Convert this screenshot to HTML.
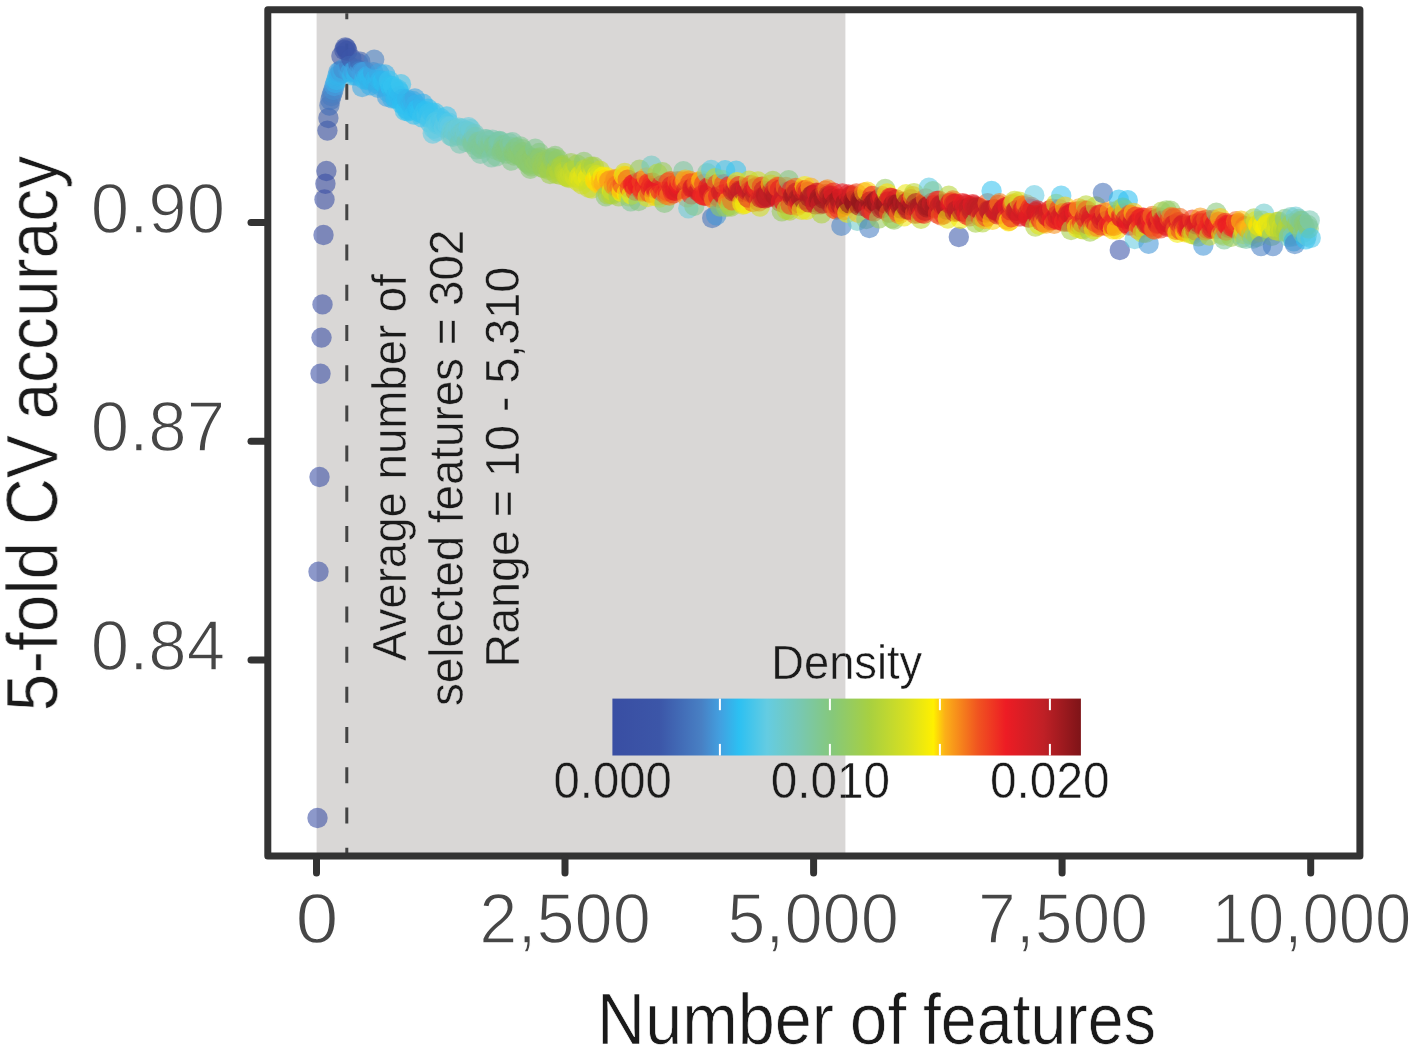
<!DOCTYPE html>
<html><head><meta charset="utf-8"><title>5-fold CV accuracy vs number of features</title>
<style>html,body{margin:0;padding:0;background:#fff;}body{width:1417px;height:1052px;overflow:hidden;font-family:"Liberation Sans",sans-serif;}</style>
</head><body>
<svg width="1417" height="1052" viewBox="0 0 1417 1052" style="display:block;font-family:'Liberation Sans',sans-serif">
<defs><linearGradient id="jet" x1="0" x2="1" y1="0" y2="0"><stop offset="0.0%" stop-color="rgb(57, 78, 163)"/><stop offset="10.0%" stop-color="rgb(60, 86, 168)"/><stop offset="19.0%" stop-color="rgb(72, 128, 196)"/><stop offset="23.0%" stop-color="rgb(66, 160, 224)"/><stop offset="27.0%" stop-color="rgb(44, 192, 242)"/><stop offset="33.0%" stop-color="rgb(100, 204, 226)"/><stop offset="40.0%" stop-color="rgb(120, 200, 178)"/><stop offset="47.0%" stop-color="rgb(134, 200, 122)"/><stop offset="55.0%" stop-color="rgb(168, 208, 64)"/><stop offset="63.0%" stop-color="rgb(216, 224, 32)"/><stop offset="68.5%" stop-color="rgb(255, 240, 0)"/><stop offset="71.0%" stop-color="rgb(251, 176, 24)"/><stop offset="78.0%" stop-color="rgb(240, 84, 32)"/><stop offset="84.0%" stop-color="rgb(237, 28, 36)"/><stop offset="92.0%" stop-color="rgb(192, 32, 38)"/><stop offset="100.0%" stop-color="rgb(126, 20, 24)"/></linearGradient>
<clipPath id="cl"><rect x="0" y="0" width="845.4" height="1052"/></clipPath>
<clipPath id="cr"><rect x="845.4" y="0" width="600" height="1052"/></clipPath></defs>
<rect width="1417" height="1052" fill="#ffffff"/>
<rect x="316.6" y="9.7" width="528.8" height="846.3" fill="#d9d7d6"/>
<line x1="346.8" y1="13.2" x2="346.8" y2="853" stroke="#444444" stroke-width="3" stroke-dasharray="16 24.21" stroke-dashoffset="9.9"/>
<g fill-opacity="0.58">
<circle cx="317.5" cy="818.0" r="10.2" fill="#394ea3"/>
<circle cx="318.5" cy="571.7" r="10.2" fill="#394ea3"/>
<circle cx="319.5" cy="477.0" r="10.2" fill="#394ea3"/>
<circle cx="320.5" cy="373.7" r="10.2" fill="#394ea3"/>
<circle cx="321.5" cy="337.6" r="10.2" fill="#394ea3"/>
<circle cx="322.5" cy="304.4" r="10.2" fill="#394ea3"/>
<circle cx="323.5" cy="235.0" r="10.2" fill="#394ea3"/>
<circle cx="324.5" cy="199.5" r="10.2" fill="#394ea3"/>
<circle cx="325.4" cy="183.8" r="10.2" fill="#394ea3"/>
<circle cx="326.4" cy="171.0" r="10.2" fill="#394fa3"/>
<circle cx="327.4" cy="130.6" r="10.2" fill="#3b54a7"/>
<circle cx="328.4" cy="118.0" r="10.2" fill="#3d5bab"/>
<circle cx="329.4" cy="105.6" r="10.2" fill="#426cb6"/>
<circle cx="330.4" cy="100.0" r="10.2" fill="#4473bb"/>
<circle cx="331.4" cy="96.0" r="10.2" fill="#467ac0"/>
<circle cx="332.4" cy="93.0" r="10.2" fill="#4881c5"/>
<circle cx="333.4" cy="90.0" r="10.2" fill="#458ed1"/>
<circle cx="334.4" cy="86.0" r="10.2" fill="#41a2e1"/>
<circle cx="335.4" cy="83.0" r="10.2" fill="#38aee8"/>
<circle cx="336.4" cy="80.0" r="10.2" fill="#33b6ec"/>
<circle cx="337.4" cy="76.0" r="10.2" fill="#34b4eb"/>
<circle cx="338.4" cy="72.0" r="10.2" fill="#41a2e1"/>
<circle cx="339.4" cy="75.0" r="10.2" fill="#35b2ea"/>
<circle cx="340.4" cy="71.0" r="10.2" fill="#439cdd"/>
<circle cx="341.4" cy="56.0" r="10.2" fill="#3c55a7"/>
<circle cx="342.3" cy="73.0" r="10.2" fill="#3aabe6"/>
<circle cx="343.3" cy="69.0" r="10.2" fill="#458ed0"/>
<circle cx="344.3" cy="50.0" r="10.2" fill="#3b53a6"/>
<circle cx="345.3" cy="47.5" r="10.2" fill="#3a52a5"/>
<circle cx="346.3" cy="48.5" r="10.2" fill="#3b52a6"/>
<circle cx="347.3" cy="51.0" r="10.2" fill="#3b53a6"/>
<circle cx="348.3" cy="71.0" r="10.2" fill="#42a0e0"/>
<circle cx="349.3" cy="65.9" r="10.2" fill="#4679bf"/>
<circle cx="350.3" cy="72.5" r="10.2" fill="#3babe6"/>
<circle cx="351.3" cy="58.5" r="10.2" fill="#3c57a9"/>
<circle cx="352.3" cy="75.4" r="10.2" fill="#30baee"/>
<circle cx="353.3" cy="71.2" r="10.2" fill="#42a0e0"/>
<circle cx="354.3" cy="71.4" r="10.2" fill="#41a2e1"/>
<circle cx="355.3" cy="73.1" r="10.2" fill="#39ade7"/>
<circle cx="356.3" cy="75.9" r="10.2" fill="#30baef"/>
<circle cx="357.3" cy="69.3" r="10.2" fill="#458ed1"/>
<circle cx="358.3" cy="63.3" r="10.2" fill="#4269b5"/>
<circle cx="359.3" cy="71.2" r="10.2" fill="#439ddd"/>
<circle cx="360.2" cy="61.8" r="10.2" fill="#3f62b0"/>
<circle cx="361.2" cy="72.1" r="10.2" fill="#41a2e1"/>
<circle cx="362.2" cy="87.1" r="10.2" fill="#3ca9e5"/>
<circle cx="363.2" cy="72.2" r="10.2" fill="#41a1e1"/>
<circle cx="364.2" cy="79.3" r="10.2" fill="#30bbef"/>
<circle cx="365.2" cy="71.4" r="10.2" fill="#439adb"/>
<circle cx="366.2" cy="79.2" r="10.2" fill="#30baee"/>
<circle cx="367.2" cy="76.1" r="10.2" fill="#35b3eb"/>
<circle cx="368.2" cy="77.4" r="10.2" fill="#32b7ed"/>
<circle cx="369.2" cy="80.2" r="10.2" fill="#31b9ee"/>
<circle cx="370.2" cy="85.2" r="10.2" fill="#38afe8"/>
<circle cx="371.2" cy="79.2" r="10.2" fill="#31b8ee"/>
<circle cx="372.2" cy="79.2" r="10.2" fill="#31b8ee"/>
<circle cx="373.2" cy="72.3" r="10.2" fill="#429dde"/>
<circle cx="374.2" cy="59.6" r="10.2" fill="#4881c5"/>
<circle cx="375.2" cy="79.5" r="10.2" fill="#32b8ed"/>
<circle cx="376.2" cy="83.4" r="10.2" fill="#34b4eb"/>
<circle cx="377.1" cy="80.2" r="10.2" fill="#31b9ee"/>
<circle cx="378.1" cy="87.9" r="10.2" fill="#3ca8e5"/>
<circle cx="379.1" cy="73.4" r="10.2" fill="#3fa4e2"/>
<circle cx="380.1" cy="80.8" r="10.2" fill="#30baef"/>
<circle cx="381.1" cy="86.2" r="10.2" fill="#37b0e9"/>
<circle cx="382.1" cy="81.8" r="10.2" fill="#2fbbef"/>
<circle cx="383.1" cy="80.7" r="10.2" fill="#2ebef1"/>
<circle cx="384.1" cy="83.5" r="10.2" fill="#2fbcf0"/>
<circle cx="385.1" cy="74.4" r="10.2" fill="#37b0e9"/>
<circle cx="386.1" cy="86.5" r="10.2" fill="#32b8ed"/>
<circle cx="387.1" cy="96.8" r="10.2" fill="#40a2e1"/>
<circle cx="388.1" cy="92.3" r="10.2" fill="#39ace7"/>
<circle cx="389.1" cy="80.7" r="10.2" fill="#38c3ef"/>
<circle cx="390.1" cy="85.7" r="10.2" fill="#32c1f0"/>
<circle cx="391.1" cy="88.6" r="10.2" fill="#2dbff1"/>
<circle cx="392.1" cy="98.3" r="10.2" fill="#37b0e9"/>
<circle cx="393.1" cy="86.5" r="10.2" fill="#37c2ef"/>
<circle cx="394.0" cy="88.4" r="10.2" fill="#32c1f0"/>
<circle cx="395.0" cy="98.0" r="10.2" fill="#32b7ed"/>
<circle cx="396.0" cy="98.9" r="10.2" fill="#30baee"/>
<circle cx="397.0" cy="94.7" r="10.2" fill="#30bbef"/>
<circle cx="398.0" cy="89.4" r="10.2" fill="#32c1f0"/>
<circle cx="399.0" cy="91.8" r="10.2" fill="#2dbff1"/>
<circle cx="400.0" cy="96.2" r="10.2" fill="#31b9ee"/>
<circle cx="401.0" cy="84.3" r="10.2" fill="#3ec4ed"/>
<circle cx="402.0" cy="104.0" r="10.2" fill="#2cc0f2"/>
<circle cx="403.0" cy="99.0" r="10.2" fill="#32b8ed"/>
<circle cx="404.0" cy="104.4" r="10.2" fill="#2dbff1"/>
<circle cx="405.0" cy="110.9" r="10.2" fill="#34c2f0"/>
<circle cx="406.0" cy="108.6" r="10.2" fill="#31c1f1"/>
<circle cx="407.0" cy="99.4" r="10.2" fill="#35b3eb"/>
<circle cx="408.0" cy="111.2" r="10.2" fill="#32c1f0"/>
<circle cx="409.0" cy="110.4" r="10.2" fill="#31c1f1"/>
<circle cx="410.0" cy="102.9" r="10.2" fill="#33b6ec"/>
<circle cx="410.9" cy="102.6" r="10.2" fill="#34b4eb"/>
<circle cx="411.9" cy="106.4" r="10.2" fill="#2fbbef"/>
<circle cx="412.9" cy="100.9" r="10.2" fill="#38aee8"/>
<circle cx="413.9" cy="114.6" r="10.2" fill="#31c1f0"/>
<circle cx="414.9" cy="98.5" r="10.2" fill="#3da7e4"/>
<circle cx="415.9" cy="104.6" r="10.2" fill="#35b3ea"/>
<circle cx="416.9" cy="109.5" r="10.2" fill="#2ebef1"/>
<circle cx="417.9" cy="109.4" r="10.2" fill="#2dbef1"/>
<circle cx="418.9" cy="111.6" r="10.2" fill="#2fc1f1"/>
<circle cx="419.9" cy="112.6" r="10.2" fill="#32c1f0"/>
<circle cx="420.9" cy="110.3" r="10.2" fill="#2ec0f1"/>
<circle cx="421.9" cy="117.3" r="10.2" fill="#3ac3ee"/>
<circle cx="422.9" cy="103.7" r="10.2" fill="#36b1ea"/>
<circle cx="423.9" cy="113.5" r="10.2" fill="#36c2ef"/>
<circle cx="424.9" cy="110.9" r="10.2" fill="#32c1f0"/>
<circle cx="425.9" cy="115.1" r="10.2" fill="#3bc3ee"/>
<circle cx="426.9" cy="116.7" r="10.2" fill="#3fc4ed"/>
<circle cx="427.9" cy="108.8" r="10.2" fill="#2cc0f2"/>
<circle cx="428.8" cy="113.3" r="10.2" fill="#39c3ee"/>
<circle cx="429.8" cy="122.5" r="10.2" fill="#4dc7e9"/>
<circle cx="430.8" cy="118.7" r="10.2" fill="#46c6eb"/>
<circle cx="431.8" cy="112.6" r="10.2" fill="#38c3ee"/>
<circle cx="432.8" cy="133.5" r="10.2" fill="#5fcbe3"/>
<circle cx="433.8" cy="128.9" r="10.2" fill="#5ecbe4"/>
<circle cx="434.8" cy="112.8" r="10.2" fill="#39c3ee"/>
<circle cx="435.8" cy="122.0" r="10.2" fill="#51c8e7"/>
<circle cx="436.8" cy="131.4" r="10.2" fill="#64cce1"/>
<circle cx="437.8" cy="124.3" r="10.2" fill="#59cae5"/>
<circle cx="438.8" cy="123.0" r="10.2" fill="#55c9e6"/>
<circle cx="439.8" cy="120.9" r="10.2" fill="#50c8e8"/>
<circle cx="440.8" cy="118.3" r="10.2" fill="#47c6ea"/>
<circle cx="441.8" cy="121.9" r="10.2" fill="#53c8e7"/>
<circle cx="442.8" cy="120.9" r="10.2" fill="#4fc8e8"/>
<circle cx="443.8" cy="127.3" r="10.2" fill="#64cce2"/>
<circle cx="444.8" cy="122.7" r="10.2" fill="#55c9e6"/>
<circle cx="445.7" cy="123.0" r="10.2" fill="#56c9e6"/>
<circle cx="446.7" cy="116.4" r="10.2" fill="#3ec4ed"/>
<circle cx="447.7" cy="125.9" r="10.2" fill="#62cce3"/>
<circle cx="448.7" cy="122.6" r="10.2" fill="#56c9e6"/>
<circle cx="449.7" cy="126.4" r="10.2" fill="#64cce1"/>
<circle cx="450.7" cy="135.8" r="10.2" fill="#6dcacc"/>
<circle cx="451.7" cy="130.1" r="10.2" fill="#69cbd6"/>
<circle cx="452.7" cy="136.8" r="10.2" fill="#6fcac7"/>
<circle cx="453.7" cy="131.2" r="10.2" fill="#6bcbd2"/>
<circle cx="454.7" cy="130.5" r="10.2" fill="#6acbd3"/>
<circle cx="455.7" cy="129.8" r="10.2" fill="#6acbd4"/>
<circle cx="456.7" cy="129.0" r="10.2" fill="#69cbd6"/>
<circle cx="457.7" cy="135.4" r="10.2" fill="#70cac4"/>
<circle cx="458.7" cy="127.6" r="10.2" fill="#67cbdb"/>
<circle cx="459.7" cy="143.5" r="10.2" fill="#77c8b4"/>
<circle cx="460.7" cy="133.8" r="10.2" fill="#6fcac6"/>
<circle cx="461.7" cy="128.4" r="10.2" fill="#68cbd8"/>
<circle cx="462.6" cy="132.5" r="10.2" fill="#6ecaca"/>
<circle cx="463.6" cy="132.2" r="10.2" fill="#6ecacb"/>
<circle cx="464.6" cy="136.5" r="10.2" fill="#74c9bc"/>
<circle cx="465.6" cy="130.7" r="10.2" fill="#6ccad0"/>
<circle cx="466.6" cy="142.1" r="10.2" fill="#7ac8aa"/>
<circle cx="467.6" cy="131.1" r="10.2" fill="#6ccace"/>
<circle cx="468.6" cy="127.1" r="10.2" fill="#65ccdf"/>
<circle cx="469.6" cy="132.3" r="10.2" fill="#6ecaca"/>
<circle cx="470.6" cy="129.2" r="10.2" fill="#69cbd7"/>
<circle cx="471.6" cy="141.0" r="10.2" fill="#7bc8a7"/>
<circle cx="472.6" cy="144.3" r="10.2" fill="#7dc89d"/>
<circle cx="473.6" cy="142.8" r="10.2" fill="#7dc89f"/>
<circle cx="474.6" cy="133.9" r="10.2" fill="#71c9c3"/>
<circle cx="475.6" cy="136.9" r="10.2" fill="#77c8b5"/>
<circle cx="476.6" cy="149.2" r="10.2" fill="#7ec89a"/>
<circle cx="477.6" cy="143.8" r="10.2" fill="#7ec89a"/>
<circle cx="478.6" cy="141.7" r="10.2" fill="#7cc8a1"/>
<circle cx="479.5" cy="147.0" r="10.2" fill="#7fc896"/>
<circle cx="480.5" cy="153.9" r="10.2" fill="#7ac8a8"/>
<circle cx="481.5" cy="148.8" r="10.2" fill="#7fc896"/>
<circle cx="482.5" cy="143.7" r="10.2" fill="#7ec89b"/>
<circle cx="483.5" cy="145.1" r="10.2" fill="#7fc897"/>
<circle cx="484.5" cy="146.7" r="10.2" fill="#7fc894"/>
<circle cx="485.5" cy="139.2" r="10.2" fill="#78c8b1"/>
<circle cx="486.5" cy="139.4" r="10.2" fill="#78c8b0"/>
<circle cx="487.5" cy="145.1" r="10.2" fill="#7fc896"/>
<circle cx="488.5" cy="140.7" r="10.2" fill="#7ac8aa"/>
<circle cx="489.5" cy="145.2" r="10.2" fill="#7fc896"/>
<circle cx="490.5" cy="146.3" r="10.2" fill="#80c893"/>
<circle cx="491.5" cy="157.4" r="10.2" fill="#7ac8a9"/>
<circle cx="492.5" cy="139.6" r="10.2" fill="#78c8b2"/>
<circle cx="493.5" cy="145.9" r="10.2" fill="#80c893"/>
<circle cx="494.5" cy="145.9" r="10.2" fill="#80c893"/>
<circle cx="495.5" cy="149.6" r="10.2" fill="#81c88d"/>
<circle cx="496.5" cy="156.4" r="10.2" fill="#7ec89b"/>
<circle cx="497.4" cy="144.1" r="10.2" fill="#7ec899"/>
<circle cx="498.4" cy="141.7" r="10.2" fill="#7bc8a6"/>
<circle cx="499.4" cy="140.9" r="10.2" fill="#79c8ad"/>
<circle cx="500.4" cy="141.5" r="10.2" fill="#7ac8a9"/>
<circle cx="501.4" cy="152.0" r="10.2" fill="#83c888"/>
<circle cx="502.4" cy="150.0" r="10.2" fill="#83c886"/>
<circle cx="503.4" cy="145.1" r="10.2" fill="#80c893"/>
<circle cx="504.4" cy="148.6" r="10.2" fill="#83c887"/>
<circle cx="505.4" cy="150.9" r="10.2" fill="#84c883"/>
<circle cx="506.4" cy="153.5" r="10.2" fill="#84c883"/>
<circle cx="507.4" cy="148.4" r="10.2" fill="#83c885"/>
<circle cx="508.4" cy="150.4" r="10.2" fill="#84c881"/>
<circle cx="509.4" cy="143.1" r="10.2" fill="#7dc8a0"/>
<circle cx="510.4" cy="146.7" r="10.2" fill="#82c88b"/>
<circle cx="511.4" cy="160.6" r="10.2" fill="#82c88a"/>
<circle cx="512.4" cy="142.2" r="10.2" fill="#7bc8a8"/>
<circle cx="513.4" cy="151.7" r="10.2" fill="#86c87b"/>
<circle cx="514.3" cy="155.5" r="10.2" fill="#86c879"/>
<circle cx="515.3" cy="152.2" r="10.2" fill="#87c879"/>
<circle cx="516.3" cy="147.6" r="10.2" fill="#83c886"/>
<circle cx="517.3" cy="154.4" r="10.2" fill="#88c877"/>
<circle cx="518.3" cy="155.0" r="10.2" fill="#89c976"/>
<circle cx="519.3" cy="155.0" r="10.2" fill="#89c975"/>
<circle cx="520.3" cy="146.4" r="10.2" fill="#81c88f"/>
<circle cx="521.3" cy="155.3" r="10.2" fill="#8ac974"/>
<circle cx="522.3" cy="149.1" r="10.2" fill="#84c882"/>
<circle cx="523.3" cy="152.1" r="10.2" fill="#87c878"/>
<circle cx="524.3" cy="159.0" r="10.2" fill="#8bc971"/>
<circle cx="525.3" cy="160.6" r="10.2" fill="#8cc971"/>
<circle cx="526.3" cy="162.2" r="10.2" fill="#8bc971"/>
<circle cx="527.3" cy="155.5" r="10.2" fill="#8bc971"/>
<circle cx="528.3" cy="163.0" r="10.2" fill="#8dca6f"/>
<circle cx="529.3" cy="164.6" r="10.2" fill="#8cca6f"/>
<circle cx="530.3" cy="168.7" r="10.2" fill="#89c976"/>
<circle cx="531.2" cy="166.3" r="10.2" fill="#8dca6e"/>
<circle cx="532.2" cy="158.4" r="10.2" fill="#8eca6c"/>
<circle cx="533.2" cy="158.4" r="10.2" fill="#8eca6c"/>
<circle cx="534.2" cy="164.4" r="10.2" fill="#91cb68"/>
<circle cx="535.2" cy="148.8" r="10.2" fill="#80c891"/>
<circle cx="536.2" cy="162.7" r="10.2" fill="#92cb66"/>
<circle cx="537.2" cy="158.5" r="10.2" fill="#8eca6c"/>
<circle cx="538.2" cy="159.6" r="10.2" fill="#90ca69"/>
<circle cx="539.2" cy="152.9" r="10.2" fill="#85c880"/>
<circle cx="540.2" cy="157.5" r="10.2" fill="#8dca6f"/>
<circle cx="541.2" cy="162.3" r="10.2" fill="#94cb63"/>
<circle cx="542.2" cy="167.2" r="10.2" fill="#97cc5d"/>
<circle cx="543.2" cy="168.0" r="10.2" fill="#98cc5b"/>
<circle cx="544.2" cy="162.6" r="10.2" fill="#96cc5f"/>
<circle cx="545.2" cy="161.9" r="10.2" fill="#96cc5f"/>
<circle cx="546.2" cy="159.6" r="10.2" fill="#92cb66"/>
<circle cx="547.2" cy="167.7" r="10.2" fill="#9dcd52"/>
<circle cx="548.1" cy="162.3" r="10.2" fill="#98cc5c"/>
<circle cx="549.1" cy="170.1" r="10.2" fill="#a1ce4d"/>
<circle cx="550.1" cy="174.1" r="10.2" fill="#a0ce4e"/>
<circle cx="551.1" cy="165.2" r="10.2" fill="#9ece50"/>
<circle cx="552.1" cy="157.9" r="10.2" fill="#8eca6d"/>
<circle cx="553.1" cy="161.5" r="10.2" fill="#98cc5c"/>
<circle cx="554.1" cy="158.7" r="10.2" fill="#90ca6a"/>
<circle cx="555.1" cy="156.0" r="10.2" fill="#86c87a"/>
<circle cx="556.1" cy="173.7" r="10.2" fill="#abd13e"/>
<circle cx="557.1" cy="168.4" r="10.2" fill="#a8d040"/>
<circle cx="558.1" cy="159.5" r="10.2" fill="#91cb67"/>
<circle cx="559.1" cy="171.2" r="10.2" fill="#afd23b"/>
<circle cx="560.1" cy="174.7" r="10.2" fill="#b2d339"/>
<circle cx="561.1" cy="166.5" r="10.2" fill="#a6d044"/>
<circle cx="562.1" cy="165.1" r="10.2" fill="#a2cf4a"/>
<circle cx="563.1" cy="167.2" r="10.2" fill="#a8d040"/>
<circle cx="564.1" cy="171.8" r="10.2" fill="#b7d536"/>
<circle cx="565.0" cy="173.0" r="10.2" fill="#bad634"/>
<circle cx="566.0" cy="176.2" r="10.2" fill="#bed732"/>
<circle cx="567.0" cy="176.6" r="10.2" fill="#c0d830"/>
<circle cx="568.0" cy="176.8" r="10.2" fill="#c2d92f"/>
<circle cx="569.0" cy="178.0" r="10.2" fill="#c3d92e"/>
<circle cx="570.0" cy="174.6" r="10.2" fill="#c6da2c"/>
<circle cx="571.0" cy="163.3" r="10.2" fill="#9bcd56"/>
<circle cx="572.0" cy="171.0" r="10.2" fill="#c0d830"/>
<circle cx="573.0" cy="174.8" r="10.2" fill="#ccdc28"/>
<circle cx="574.0" cy="170.3" r="10.2" fill="#bed731"/>
<circle cx="575.0" cy="177.5" r="10.2" fill="#d3de24"/>
<circle cx="576.0" cy="171.0" r="10.2" fill="#c3d92e"/>
<circle cx="577.0" cy="164.8" r="10.2" fill="#a1ce4c"/>
<circle cx="578.0" cy="181.2" r="10.2" fill="#d3de23"/>
<circle cx="579.0" cy="177.4" r="10.2" fill="#dce11d"/>
<circle cx="580.0" cy="175.3" r="10.2" fill="#d9e11f"/>
<circle cx="581.0" cy="179.4" r="10.2" fill="#e0e319"/>
<circle cx="582.0" cy="184.4" r="10.2" fill="#cfdd26"/>
<circle cx="582.9" cy="176.8" r="10.2" fill="#e3e517"/>
<circle cx="583.9" cy="162.0" r="10.2" fill="#8dca6d"/>
<circle cx="584.9" cy="169.4" r="10.2" fill="#bdd732"/>
<circle cx="585.9" cy="173.4" r="10.2" fill="#d8e020"/>
<circle cx="586.9" cy="170.8" r="10.2" fill="#c8db2b"/>
<circle cx="587.9" cy="177.5" r="10.2" fill="#efe90d"/>
<circle cx="588.9" cy="187.7" r="10.2" fill="#cbdc29"/>
<circle cx="589.9" cy="174.3" r="10.2" fill="#e2e418"/>
<circle cx="590.9" cy="166.8" r="10.2" fill="#a6cf44"/>
<circle cx="591.9" cy="188.5" r="10.2" fill="#cbdc29"/>
<circle cx="592.9" cy="173.6" r="10.2" fill="#dee31b"/>
<circle cx="593.9" cy="166.6" r="10.2" fill="#a3cf49"/>
<circle cx="594.9" cy="180.4" r="10.2" fill="#fee006"/>
<circle cx="595.9" cy="180.8" r="10.2" fill="#fed909"/>
<circle cx="596.9" cy="174.9" r="10.2" fill="#ebe811"/>
<circle cx="597.9" cy="183.3" r="10.2" fill="#fdd60a"/>
<circle cx="598.9" cy="176.5" r="10.2" fill="#f8ed05"/>
<circle cx="599.8" cy="170.8" r="10.2" fill="#c4d92d"/>
<circle cx="600.8" cy="180.6" r="10.2" fill="#fcba14"/>
<circle cx="601.8" cy="184.1" r="10.2" fill="#fcbf13"/>
<circle cx="602.8" cy="176.6" r="10.2" fill="#fbee03"/>
<circle cx="603.8" cy="183.4" r="10.2" fill="#faab18"/>
<circle cx="604.8" cy="179.7" r="10.2" fill="#fbb118"/>
<circle cx="605.8" cy="196.4" r="10.2" fill="#89c975"/>
<circle cx="606.8" cy="177.1" r="10.2" fill="#ffe903"/>
<circle cx="607.8" cy="194.2" r="10.2" fill="#a8d040"/>
<circle cx="608.8" cy="181.1" r="10.2" fill="#f89b1a"/>
<circle cx="609.8" cy="180.4" r="10.2" fill="#f99d1a"/>
<circle cx="610.8" cy="194.1" r="10.2" fill="#b3d439"/>
<circle cx="611.8" cy="190.4" r="10.2" fill="#f1ea0b"/>
<circle cx="612.8" cy="194.2" r="10.2" fill="#b9d635"/>
<circle cx="613.8" cy="185.4" r="10.2" fill="#f6831c"/>
<circle cx="614.8" cy="179.1" r="10.2" fill="#f8991a"/>
<circle cx="615.8" cy="179.7" r="10.2" fill="#f78e1b"/>
<circle cx="616.7" cy="185.7" r="10.2" fill="#f4721d"/>
<circle cx="617.7" cy="188.5" r="10.2" fill="#f7921b"/>
<circle cx="618.7" cy="196.4" r="10.2" fill="#a3cf48"/>
<circle cx="619.7" cy="187.3" r="10.2" fill="#f3701e"/>
<circle cx="620.7" cy="189.4" r="10.2" fill="#f78f1b"/>
<circle cx="621.7" cy="192.1" r="10.2" fill="#feef01"/>
<circle cx="622.7" cy="184.7" r="10.2" fill="#f04b21"/>
<circle cx="623.7" cy="175.6" r="10.2" fill="#ffee01"/>
<circle cx="624.7" cy="172.9" r="10.2" fill="#d5df22"/>
<circle cx="625.7" cy="176.2" r="10.2" fill="#fdc80f"/>
<circle cx="626.7" cy="193.3" r="10.2" fill="#fdef01"/>
<circle cx="627.7" cy="179.8" r="10.2" fill="#f15e1f"/>
<circle cx="628.7" cy="196.4" r="10.2" fill="#c5da2d"/>
<circle cx="629.7" cy="188.1" r="10.2" fill="#ef3922"/>
<circle cx="630.7" cy="201.2" r="10.2" fill="#7fc896"/>
<circle cx="631.7" cy="194.6" r="10.2" fill="#f6ec07"/>
<circle cx="632.7" cy="184.6" r="10.2" fill="#ed2224"/>
<circle cx="633.6" cy="184.1" r="10.2" fill="#ed2124"/>
<circle cx="634.6" cy="186.2" r="10.2" fill="#ed1c24"/>
<circle cx="635.6" cy="190.7" r="10.2" fill="#f04b21"/>
<circle cx="636.6" cy="182.6" r="10.2" fill="#ee2a23"/>
<circle cx="637.6" cy="185.3" r="10.2" fill="#eb1c24"/>
<circle cx="638.6" cy="201.0" r="10.2" fill="#85c87d"/>
<circle cx="639.6" cy="169.7" r="10.2" fill="#99cc5a"/>
<circle cx="640.6" cy="187.4" r="10.2" fill="#ec1c24"/>
<circle cx="641.6" cy="180.9" r="10.2" fill="#ef4421"/>
<circle cx="642.6" cy="191.5" r="10.2" fill="#f04d21"/>
<circle cx="643.6" cy="190.9" r="10.2" fill="#ef3e22"/>
<circle cx="644.6" cy="185.9" r="10.2" fill="#e81c24"/>
<circle cx="645.6" cy="190.7" r="10.2" fill="#ee3722"/>
<circle cx="646.6" cy="177.5" r="10.2" fill="#fbad18"/>
<circle cx="647.6" cy="197.0" r="10.2" fill="#dde21c"/>
<circle cx="648.6" cy="183.2" r="10.2" fill="#ee2623"/>
<circle cx="649.6" cy="192.6" r="10.2" fill="#f05620"/>
<circle cx="650.6" cy="187.8" r="10.2" fill="#e71d24"/>
<circle cx="651.5" cy="165.8" r="10.2" fill="#70cac5"/>
<circle cx="652.5" cy="182.7" r="10.2" fill="#ee3023"/>
<circle cx="653.5" cy="188.2" r="10.2" fill="#e61d24"/>
<circle cx="654.5" cy="195.7" r="10.2" fill="#fdce0d"/>
<circle cx="655.5" cy="188.7" r="10.2" fill="#e61d24"/>
<circle cx="656.5" cy="188.6" r="10.2" fill="#e51d24"/>
<circle cx="657.5" cy="173.8" r="10.2" fill="#b8d535"/>
<circle cx="658.5" cy="195.3" r="10.2" fill="#f9a119"/>
<circle cx="659.5" cy="197.5" r="10.2" fill="#e6e614"/>
<circle cx="660.5" cy="190.8" r="10.2" fill="#ed2124"/>
<circle cx="661.5" cy="185.4" r="10.2" fill="#e51d24"/>
<circle cx="662.5" cy="172.2" r="10.2" fill="#98cc5b"/>
<circle cx="663.5" cy="192.6" r="10.2" fill="#ef3b22"/>
<circle cx="664.5" cy="202.9" r="10.2" fill="#85c87e"/>
<circle cx="665.5" cy="191.8" r="10.2" fill="#ee2823"/>
<circle cx="666.5" cy="194.9" r="10.2" fill="#f4771d"/>
<circle cx="667.5" cy="191.0" r="10.2" fill="#ea1c24"/>
<circle cx="668.4" cy="182.5" r="10.2" fill="#ef3e22"/>
<circle cx="669.4" cy="195.5" r="10.2" fill="#f6861c"/>
<circle cx="670.4" cy="181.2" r="10.2" fill="#f1611f"/>
<circle cx="671.4" cy="186.2" r="10.2" fill="#e11d25"/>
<circle cx="672.4" cy="189.8" r="10.2" fill="#df1d25"/>
<circle cx="673.4" cy="193.2" r="10.2" fill="#ee3522"/>
<circle cx="674.4" cy="190.7" r="10.2" fill="#e21d24"/>
<circle cx="675.4" cy="190.6" r="10.2" fill="#e11d25"/>
<circle cx="676.4" cy="184.2" r="10.2" fill="#ed2224"/>
<circle cx="677.4" cy="181.3" r="10.2" fill="#f2691e"/>
<circle cx="678.4" cy="188.9" r="10.2" fill="#d91e25"/>
<circle cx="679.4" cy="184.7" r="10.2" fill="#ed1c24"/>
<circle cx="680.4" cy="181.4" r="10.2" fill="#f36c1e"/>
<circle cx="681.4" cy="181.7" r="10.2" fill="#f2631f"/>
<circle cx="682.4" cy="184.2" r="10.2" fill="#ee2623"/>
<circle cx="683.4" cy="171.3" r="10.2" fill="#7dc89f"/>
<circle cx="684.4" cy="181.4" r="10.2" fill="#f4731d"/>
<circle cx="685.3" cy="179.8" r="10.2" fill="#fcba14"/>
<circle cx="686.3" cy="190.0" r="10.2" fill="#d71e25"/>
<circle cx="687.3" cy="197.4" r="10.2" fill="#f8971a"/>
<circle cx="688.3" cy="208.2" r="10.2" fill="#69cbd7"/>
<circle cx="689.3" cy="180.8" r="10.2" fill="#f8941a"/>
<circle cx="690.3" cy="183.4" r="10.2" fill="#ef3c22"/>
<circle cx="691.3" cy="194.4" r="10.2" fill="#ee2a23"/>
<circle cx="692.3" cy="188.1" r="10.2" fill="#d51e25"/>
<circle cx="693.3" cy="187.6" r="10.2" fill="#d71e25"/>
<circle cx="694.3" cy="205.7" r="10.2" fill="#81c88e"/>
<circle cx="695.3" cy="187.6" r="10.2" fill="#d71e25"/>
<circle cx="696.3" cy="183.1" r="10.2" fill="#ef4a21"/>
<circle cx="697.3" cy="182.2" r="10.2" fill="#f3691e"/>
<circle cx="698.3" cy="191.5" r="10.2" fill="#d41e25"/>
<circle cx="699.3" cy="191.4" r="10.2" fill="#d31e25"/>
<circle cx="700.3" cy="182.1" r="10.2" fill="#f4751d"/>
<circle cx="701.3" cy="180.4" r="10.2" fill="#fdcd0d"/>
<circle cx="702.2" cy="194.9" r="10.2" fill="#ed2024"/>
<circle cx="703.2" cy="195.4" r="10.2" fill="#ee2823"/>
<circle cx="704.2" cy="183.9" r="10.2" fill="#ef3f22"/>
<circle cx="705.2" cy="195.9" r="10.2" fill="#ee3023"/>
<circle cx="706.2" cy="195.5" r="10.2" fill="#ed2423"/>
<circle cx="707.2" cy="173.2" r="10.2" fill="#7dc89f"/>
<circle cx="708.2" cy="187.2" r="10.2" fill="#da1e25"/>
<circle cx="709.2" cy="192.5" r="10.2" fill="#d11e25"/>
<circle cx="710.2" cy="187.1" r="10.2" fill="#db1e25"/>
<circle cx="711.2" cy="170.0" r="10.2" fill="#58c9e5"/>
<circle cx="712.2" cy="218.0" r="10.2" fill="#4471ba"/>
<circle cx="713.2" cy="197.6" r="10.2" fill="#ef4821"/>
<circle cx="714.2" cy="199.3" r="10.2" fill="#f6891b"/>
<circle cx="715.2" cy="178.3" r="10.2" fill="#bfd831"/>
<circle cx="716.2" cy="215.4" r="10.2" fill="#4494d5"/>
<circle cx="717.2" cy="184.3" r="10.2" fill="#ef4121"/>
<circle cx="718.2" cy="196.0" r="10.2" fill="#ea1c24"/>
<circle cx="719.2" cy="197.7" r="10.2" fill="#ef3c22"/>
<circle cx="720.1" cy="206.6" r="10.2" fill="#8fca6b"/>
<circle cx="721.1" cy="191.7" r="10.2" fill="#c61f26"/>
<circle cx="722.1" cy="179.9" r="10.2" fill="#dbe11e"/>
<circle cx="723.1" cy="194.5" r="10.2" fill="#d31e25"/>
<circle cx="724.1" cy="184.2" r="10.2" fill="#f04e20"/>
<circle cx="725.1" cy="170.1" r="10.2" fill="#3dc4ed"/>
<circle cx="726.1" cy="207.0" r="10.2" fill="#91ca68"/>
<circle cx="727.1" cy="197.9" r="10.2" fill="#ee3023"/>
<circle cx="728.1" cy="201.4" r="10.2" fill="#fbb516"/>
<circle cx="729.1" cy="186.2" r="10.2" fill="#ed1f24"/>
<circle cx="730.1" cy="205.3" r="10.2" fill="#b4d438"/>
<circle cx="731.1" cy="206.5" r="10.2" fill="#9ece51"/>
<circle cx="732.1" cy="200.2" r="10.2" fill="#f36b1e"/>
<circle cx="733.1" cy="191.4" r="10.2" fill="#c32026"/>
<circle cx="734.1" cy="184.9" r="10.2" fill="#ef4a21"/>
<circle cx="735.1" cy="190.7" r="10.2" fill="#c52026"/>
<circle cx="736.1" cy="170.8" r="10.2" fill="#3ac3ee"/>
<circle cx="737.0" cy="182.2" r="10.2" fill="#fee006"/>
<circle cx="738.0" cy="192.7" r="10.2" fill="#c12026"/>
<circle cx="739.0" cy="186.3" r="10.2" fill="#ee2723"/>
<circle cx="740.0" cy="190.4" r="10.2" fill="#c61f26"/>
<circle cx="741.0" cy="191.4" r="10.2" fill="#c22026"/>
<circle cx="742.0" cy="202.9" r="10.2" fill="#fdcd0d"/>
<circle cx="743.0" cy="204.5" r="10.2" fill="#e1e418"/>
<circle cx="744.0" cy="192.0" r="10.2" fill="#bf2026"/>
<circle cx="745.0" cy="203.8" r="10.2" fill="#f9ee05"/>
<circle cx="746.0" cy="188.0" r="10.2" fill="#e11d25"/>
<circle cx="747.0" cy="190.5" r="10.2" fill="#c61f26"/>
<circle cx="748.0" cy="197.6" r="10.2" fill="#d91e25"/>
<circle cx="749.0" cy="180.8" r="10.2" fill="#c8db2a"/>
<circle cx="750.0" cy="191.1" r="10.2" fill="#c32026"/>
<circle cx="751.0" cy="185.3" r="10.2" fill="#f15b1f"/>
<circle cx="752.0" cy="193.4" r="10.2" fill="#ba1f25"/>
<circle cx="753.0" cy="202.0" r="10.2" fill="#f2671e"/>
<circle cx="753.9" cy="188.7" r="10.2" fill="#dc1e25"/>
<circle cx="754.9" cy="194.3" r="10.2" fill="#ba1f25"/>
<circle cx="755.9" cy="188.1" r="10.2" fill="#e71d24"/>
<circle cx="756.9" cy="186.7" r="10.2" fill="#ef3822"/>
<circle cx="757.9" cy="181.5" r="10.2" fill="#ccdc28"/>
<circle cx="758.9" cy="201.4" r="10.2" fill="#ef4021"/>
<circle cx="759.9" cy="206.6" r="10.2" fill="#d2de24"/>
<circle cx="760.9" cy="198.0" r="10.2" fill="#cf1f25"/>
<circle cx="761.9" cy="186.7" r="10.2" fill="#ef4121"/>
<circle cx="762.9" cy="197.6" r="10.2" fill="#c81f26"/>
<circle cx="763.9" cy="190.5" r="10.2" fill="#cd1f25"/>
<circle cx="764.9" cy="198.2" r="10.2" fill="#cd1f25"/>
<circle cx="765.9" cy="195.5" r="10.2" fill="#b61e24"/>
<circle cx="766.9" cy="196.6" r="10.2" fill="#bc1f25"/>
<circle cx="767.9" cy="197.4" r="10.2" fill="#c22026"/>
<circle cx="768.9" cy="190.8" r="10.2" fill="#cc1f25"/>
<circle cx="769.9" cy="191.9" r="10.2" fill="#c22026"/>
<circle cx="770.8" cy="184.6" r="10.2" fill="#fcc70f"/>
<circle cx="771.8" cy="191.8" r="10.2" fill="#c32026"/>
<circle cx="772.8" cy="180.9" r="10.2" fill="#a5cf45"/>
<circle cx="773.8" cy="193.7" r="10.2" fill="#b41e23"/>
<circle cx="774.8" cy="189.2" r="10.2" fill="#e61d24"/>
<circle cx="775.8" cy="195.6" r="10.2" fill="#af1d22"/>
<circle cx="776.8" cy="197.2" r="10.2" fill="#b61e24"/>
<circle cx="777.8" cy="186.8" r="10.2" fill="#f2621f"/>
<circle cx="778.8" cy="187.1" r="10.2" fill="#f05620"/>
<circle cx="779.8" cy="189.7" r="10.2" fill="#e31d24"/>
<circle cx="780.8" cy="202.1" r="10.2" fill="#ea1c24"/>
<circle cx="781.8" cy="211.3" r="10.2" fill="#97cc5c"/>
<circle cx="782.8" cy="200.0" r="10.2" fill="#ca1f26"/>
<circle cx="783.8" cy="192.0" r="10.2" fill="#c81f26"/>
<circle cx="784.8" cy="203.6" r="10.2" fill="#ee3422"/>
<circle cx="785.8" cy="187.0" r="10.2" fill="#f4751d"/>
<circle cx="786.8" cy="209.8" r="10.2" fill="#c0d830"/>
<circle cx="787.8" cy="191.9" r="10.2" fill="#ca1f26"/>
<circle cx="788.7" cy="180.1" r="10.2" fill="#85c87d"/>
<circle cx="789.7" cy="210.6" r="10.2" fill="#b2d33a"/>
<circle cx="790.7" cy="204.7" r="10.2" fill="#ef4421"/>
<circle cx="791.7" cy="190.2" r="10.2" fill="#e71d24"/>
<circle cx="792.7" cy="197.0" r="10.2" fill="#a71c21"/>
<circle cx="793.7" cy="194.9" r="10.2" fill="#ae1d22"/>
<circle cx="794.7" cy="196.8" r="10.2" fill="#a61b21"/>
<circle cx="795.7" cy="188.0" r="10.2" fill="#f2651e"/>
<circle cx="796.7" cy="192.5" r="10.2" fill="#c91f26"/>
<circle cx="797.7" cy="205.5" r="10.2" fill="#ef4a21"/>
<circle cx="798.7" cy="197.8" r="10.2" fill="#a51b20"/>
<circle cx="799.7" cy="203.3" r="10.2" fill="#de1d25"/>
<circle cx="800.7" cy="197.2" r="10.2" fill="#a31b20"/>
<circle cx="801.7" cy="209.9" r="10.2" fill="#dce21d"/>
<circle cx="802.7" cy="190.1" r="10.2" fill="#ee2b23"/>
<circle cx="803.7" cy="199.4" r="10.2" fill="#a91c21"/>
<circle cx="804.7" cy="186.3" r="10.2" fill="#f8ed06"/>
<circle cx="805.6" cy="190.1" r="10.2" fill="#ee3023"/>
<circle cx="806.6" cy="209.8" r="10.2" fill="#ebe810"/>
<circle cx="807.6" cy="192.0" r="10.2" fill="#da1e25"/>
<circle cx="808.6" cy="202.4" r="10.2" fill="#c52026"/>
<circle cx="809.6" cy="197.1" r="10.2" fill="#a11a1f"/>
<circle cx="810.6" cy="187.6" r="10.2" fill="#fbae18"/>
<circle cx="811.6" cy="195.7" r="10.2" fill="#ac1c22"/>
<circle cx="812.6" cy="194.9" r="10.2" fill="#b71e24"/>
<circle cx="813.6" cy="195.1" r="10.2" fill="#b51e24"/>
<circle cx="814.6" cy="202.1" r="10.2" fill="#b81e24"/>
<circle cx="815.6" cy="204.2" r="10.2" fill="#d31e25"/>
<circle cx="816.6" cy="192.6" r="10.2" fill="#db1e25"/>
<circle cx="817.6" cy="193.1" r="10.2" fill="#d41e25"/>
<circle cx="818.6" cy="200.9" r="10.2" fill="#a41b20"/>
<circle cx="819.6" cy="197.8" r="10.2" fill="#9e1a1f"/>
<circle cx="820.6" cy="204.2" r="10.2" fill="#cb1f25"/>
<circle cx="821.6" cy="213.4" r="10.2" fill="#aed23c"/>
<circle cx="822.5" cy="203.3" r="10.2" fill="#bd1f25"/>
<circle cx="823.5" cy="198.5" r="10.2" fill="#9b191e"/>
<circle cx="824.5" cy="197.1" r="10.2" fill="#a41b20"/>
<circle cx="825.5" cy="190.7" r="10.2" fill="#f04d20"/>
<circle cx="826.5" cy="193.9" r="10.2" fill="#d21e25"/>
<circle cx="827.5" cy="189.5" r="10.2" fill="#f7901b"/>
<circle cx="828.5" cy="195.4" r="10.2" fill="#c02026"/>
<circle cx="829.5" cy="196.8" r="10.2" fill="#ab1c21"/>
<circle cx="830.5" cy="203.5" r="10.2" fill="#b11d23"/>
<circle cx="831.5" cy="195.6" r="10.2" fill="#bf2026"/>
<circle cx="832.5" cy="198.4" r="10.2" fill="#9c1a1e"/>
<circle cx="833.5" cy="192.7" r="10.2" fill="#ed1f24"/>
<circle cx="834.5" cy="208.8" r="10.2" fill="#ef4821"/>
<circle cx="835.5" cy="202.6" r="10.2" fill="#a01a1f"/>
<circle cx="836.5" cy="209.8" r="10.2" fill="#f36d1e"/>
<circle cx="837.5" cy="204.3" r="10.2" fill="#b41e23"/>
<circle cx="838.5" cy="208.3" r="10.2" fill="#ee2b23"/>
<circle cx="839.4" cy="198.7" r="10.2" fill="#9c191e"/>
<circle cx="840.4" cy="204.2" r="10.2" fill="#ac1c22"/>
<circle cx="841.4" cy="225.9" r="10.2" fill="#4883c6"/>
<circle cx="842.4" cy="193.5" r="10.2" fill="#ed1d24"/>
<circle cx="843.4" cy="207.0" r="10.2" fill="#d51e25"/>
<circle cx="844.4" cy="210.0" r="10.2" fill="#f05420"/>
<circle cx="845.4" cy="202.9" r="10.2" fill="#98191d"/>
<circle cx="846.4" cy="204.9" r="10.2" fill="#af1d22"/>
<circle cx="847.4" cy="212.9" r="10.2" fill="#f3eb0a"/>
<circle cx="848.4" cy="194.5" r="10.2" fill="#e41d24"/>
<circle cx="849.4" cy="203.2" r="10.2" fill="#96181d"/>
<circle cx="850.4" cy="196.0" r="10.2" fill="#cc1f25"/>
<circle cx="851.4" cy="197.2" r="10.2" fill="#ba1f25"/>
<circle cx="852.4" cy="195.2" r="10.2" fill="#dd1d25"/>
<circle cx="853.4" cy="200.4" r="10.2" fill="#92181c"/>
<circle cx="854.4" cy="202.7" r="10.2" fill="#8f171c"/>
<circle cx="855.4" cy="204.0" r="10.2" fill="#97181d"/>
<circle cx="856.4" cy="193.4" r="10.2" fill="#ef4521"/>
<circle cx="857.3" cy="220.8" r="10.2" fill="#6fcac8"/>
<circle cx="858.3" cy="212.9" r="10.2" fill="#fcc211"/>
<circle cx="859.3" cy="205.9" r="10.2" fill="#aa1c21"/>
<circle cx="860.3" cy="199.8" r="10.2" fill="#9b191e"/>
<circle cx="861.3" cy="201.4" r="10.2" fill="#8e171b"/>
<circle cx="862.3" cy="205.1" r="10.2" fill="#9a191e"/>
<circle cx="863.3" cy="204.4" r="10.2" fill="#92181c"/>
<circle cx="864.3" cy="192.5" r="10.2" fill="#f78c1b"/>
<circle cx="865.3" cy="206.5" r="10.2" fill="#ab1c22"/>
<circle cx="866.3" cy="219.0" r="10.2" fill="#83c884"/>
<circle cx="867.3" cy="191.8" r="10.2" fill="#fdd60a"/>
<circle cx="868.3" cy="208.2" r="10.2" fill="#c71f26"/>
<circle cx="869.3" cy="228.0" r="10.2" fill="#477dc2"/>
<circle cx="870.3" cy="201.5" r="10.2" fill="#93181c"/>
<circle cx="871.3" cy="210.6" r="10.2" fill="#ed2323"/>
<circle cx="872.3" cy="196.0" r="10.2" fill="#ec1c24"/>
<circle cx="873.3" cy="203.8" r="10.2" fill="#8e171b"/>
<circle cx="874.2" cy="211.3" r="10.2" fill="#ef3922"/>
<circle cx="875.2" cy="201.9" r="10.2" fill="#94181d"/>
<circle cx="876.2" cy="200.7" r="10.2" fill="#a21b20"/>
<circle cx="877.2" cy="203.8" r="10.2" fill="#8f171c"/>
<circle cx="878.2" cy="200.7" r="10.2" fill="#a51b20"/>
<circle cx="879.2" cy="218.4" r="10.2" fill="#98cc5b"/>
<circle cx="880.2" cy="198.2" r="10.2" fill="#d21e25"/>
<circle cx="881.2" cy="208.5" r="10.2" fill="#c22026"/>
<circle cx="882.2" cy="196.3" r="10.2" fill="#ee2d23"/>
<circle cx="883.2" cy="207.5" r="10.2" fill="#ad1d22"/>
<circle cx="884.2" cy="202.7" r="10.2" fill="#96181d"/>
<circle cx="885.2" cy="188.9" r="10.2" fill="#94cb62"/>
<circle cx="886.2" cy="203.8" r="10.2" fill="#92181c"/>
<circle cx="887.2" cy="193.5" r="10.2" fill="#fee006"/>
<circle cx="888.2" cy="201.4" r="10.2" fill="#a81c21"/>
<circle cx="889.2" cy="212.9" r="10.2" fill="#f05820"/>
<circle cx="890.2" cy="197.7" r="10.2" fill="#ea1c24"/>
<circle cx="891.1" cy="198.1" r="10.2" fill="#e41d24"/>
<circle cx="892.1" cy="218.4" r="10.2" fill="#a5cf45"/>
<circle cx="893.1" cy="205.0" r="10.2" fill="#94181d"/>
<circle cx="894.1" cy="219.5" r="10.2" fill="#92cb66"/>
<circle cx="895.1" cy="207.7" r="10.2" fill="#a91c21"/>
<circle cx="896.1" cy="199.5" r="10.2" fill="#d31e25"/>
<circle cx="897.1" cy="204.3" r="10.2" fill="#96181d"/>
<circle cx="898.1" cy="211.8" r="10.2" fill="#ed1e24"/>
<circle cx="899.1" cy="214.0" r="10.2" fill="#f4781d"/>
<circle cx="900.1" cy="204.9" r="10.2" fill="#96181d"/>
<circle cx="901.1" cy="208.6" r="10.2" fill="#b41e23"/>
<circle cx="902.1" cy="204.4" r="10.2" fill="#99191e"/>
<circle cx="903.1" cy="201.8" r="10.2" fill="#b81e24"/>
<circle cx="904.1" cy="216.3" r="10.2" fill="#efe90d"/>
<circle cx="905.1" cy="205.3" r="10.2" fill="#98191d"/>
<circle cx="906.1" cy="194.3" r="10.2" fill="#eae711"/>
<circle cx="907.1" cy="202.7" r="10.2" fill="#af1d22"/>
<circle cx="908.0" cy="209.7" r="10.2" fill="#c12026"/>
<circle cx="909.0" cy="209.2" r="10.2" fill="#b91f24"/>
<circle cx="910.0" cy="204.8" r="10.2" fill="#9c191e"/>
<circle cx="911.0" cy="199.2" r="10.2" fill="#ed1f24"/>
<circle cx="912.0" cy="206.0" r="10.2" fill="#9a191e"/>
<circle cx="913.0" cy="196.2" r="10.2" fill="#faab18"/>
<circle cx="914.0" cy="193.2" r="10.2" fill="#bad634"/>
<circle cx="915.0" cy="213.8" r="10.2" fill="#ef4821"/>
<circle cx="916.0" cy="203.3" r="10.2" fill="#b11d23"/>
<circle cx="917.0" cy="208.3" r="10.2" fill="#a81c21"/>
<circle cx="918.0" cy="213.2" r="10.2" fill="#ee3023"/>
<circle cx="919.0" cy="210.0" r="10.2" fill="#c12026"/>
<circle cx="920.0" cy="206.5" r="10.2" fill="#9e1a1f"/>
<circle cx="921.0" cy="218.7" r="10.2" fill="#c1d830"/>
<circle cx="922.0" cy="213.0" r="10.2" fill="#ed2323"/>
<circle cx="923.0" cy="204.5" r="10.2" fill="#ab1c22"/>
<circle cx="924.0" cy="213.8" r="10.2" fill="#ef3b22"/>
<circle cx="925.0" cy="210.7" r="10.2" fill="#c71f26"/>
<circle cx="925.9" cy="198.4" r="10.2" fill="#f36c1e"/>
<circle cx="926.9" cy="207.3" r="10.2" fill="#a21b20"/>
<circle cx="927.9" cy="206.0" r="10.2" fill="#a41b20"/>
<circle cx="928.9" cy="187.8" r="10.2" fill="#5ccae4"/>
<circle cx="929.9" cy="206.1" r="10.2" fill="#a61b20"/>
<circle cx="930.9" cy="205.5" r="10.2" fill="#aa1c21"/>
<circle cx="931.9" cy="202.9" r="10.2" fill="#cc1f25"/>
<circle cx="932.9" cy="191.2" r="10.2" fill="#7fc897"/>
<circle cx="933.9" cy="205.3" r="10.2" fill="#af1d22"/>
<circle cx="934.9" cy="207.2" r="10.2" fill="#a61b21"/>
<circle cx="935.9" cy="208.5" r="10.2" fill="#aa1c21"/>
<circle cx="936.9" cy="201.0" r="10.2" fill="#ee2623"/>
<circle cx="937.9" cy="213.8" r="10.2" fill="#ee2923"/>
<circle cx="938.9" cy="200.7" r="10.2" fill="#ee3622"/>
<circle cx="939.9" cy="205.6" r="10.2" fill="#b31e23"/>
<circle cx="940.9" cy="215.4" r="10.2" fill="#f15f1f"/>
<circle cx="941.9" cy="204.0" r="10.2" fill="#c91f26"/>
<circle cx="942.8" cy="205.1" r="10.2" fill="#bd1f25"/>
<circle cx="943.8" cy="214.3" r="10.2" fill="#ee3023"/>
<circle cx="944.8" cy="204.4" r="10.2" fill="#c71f26"/>
<circle cx="945.8" cy="206.5" r="10.2" fill="#b11d23"/>
<circle cx="946.8" cy="209.6" r="10.2" fill="#b41e23"/>
<circle cx="947.8" cy="218.6" r="10.2" fill="#e6e615"/>
<circle cx="948.8" cy="195.8" r="10.2" fill="#b5d437"/>
<circle cx="949.8" cy="203.7" r="10.2" fill="#d51e25"/>
<circle cx="950.8" cy="202.8" r="10.2" fill="#e61d24"/>
<circle cx="951.8" cy="202.4" r="10.2" fill="#ed1e24"/>
<circle cx="952.8" cy="200.4" r="10.2" fill="#f36f1e"/>
<circle cx="953.8" cy="204.0" r="10.2" fill="#d71e25"/>
<circle cx="954.8" cy="211.8" r="10.2" fill="#ca1f26"/>
<circle cx="955.8" cy="203.8" r="10.2" fill="#db1e25"/>
<circle cx="956.8" cy="210.2" r="10.2" fill="#b91f25"/>
<circle cx="957.8" cy="211.4" r="10.2" fill="#c52026"/>
<circle cx="958.8" cy="237.0" r="10.2" fill="#3d5aab"/>
<circle cx="959.7" cy="210.5" r="10.2" fill="#bc1f25"/>
<circle cx="960.7" cy="218.7" r="10.2" fill="#f7ed07"/>
<circle cx="961.7" cy="211.2" r="10.2" fill="#c32026"/>
<circle cx="962.7" cy="203.2" r="10.2" fill="#ed1e24"/>
<circle cx="963.7" cy="208.9" r="10.2" fill="#b51e24"/>
<circle cx="964.7" cy="204.3" r="10.2" fill="#de1d25"/>
<circle cx="965.7" cy="212.3" r="10.2" fill="#cc1f25"/>
<circle cx="966.7" cy="214.7" r="10.2" fill="#ed1f24"/>
<circle cx="967.7" cy="205.1" r="10.2" fill="#d61e25"/>
<circle cx="968.7" cy="207.8" r="10.2" fill="#bb1f25"/>
<circle cx="969.7" cy="216.3" r="10.2" fill="#f04e20"/>
<circle cx="970.7" cy="207.2" r="10.2" fill="#c22026"/>
<circle cx="971.7" cy="211.2" r="10.2" fill="#c12026"/>
<circle cx="972.7" cy="204.3" r="10.2" fill="#e81c24"/>
<circle cx="973.7" cy="205.5" r="10.2" fill="#d61e25"/>
<circle cx="974.7" cy="207.4" r="10.2" fill="#c32026"/>
<circle cx="975.7" cy="222.5" r="10.2" fill="#a6d043"/>
<circle cx="976.6" cy="208.1" r="10.2" fill="#c02026"/>
<circle cx="977.6" cy="207.5" r="10.2" fill="#c42026"/>
<circle cx="978.6" cy="207.4" r="10.2" fill="#c61f26"/>
<circle cx="979.6" cy="209.1" r="10.2" fill="#bc1f25"/>
<circle cx="980.6" cy="216.9" r="10.2" fill="#f05120"/>
<circle cx="981.6" cy="211.8" r="10.2" fill="#c42026"/>
<circle cx="982.6" cy="222.4" r="10.2" fill="#b4d438"/>
<circle cx="983.6" cy="212.1" r="10.2" fill="#c61f26"/>
<circle cx="984.6" cy="219.1" r="10.2" fill="#fbaf18"/>
<circle cx="985.6" cy="212.6" r="10.2" fill="#c91f26"/>
<circle cx="986.6" cy="216.9" r="10.2" fill="#ef4521"/>
<circle cx="987.6" cy="203.1" r="10.2" fill="#f15b1f"/>
<circle cx="988.6" cy="210.1" r="10.2" fill="#bf2026"/>
<circle cx="989.6" cy="211.0" r="10.2" fill="#c02026"/>
<circle cx="990.6" cy="210.1" r="10.2" fill="#c02026"/>
<circle cx="991.6" cy="191.0" r="10.2" fill="#36c2ef"/>
<circle cx="992.6" cy="219.9" r="10.2" fill="#fdd20b"/>
<circle cx="993.6" cy="209.5" r="10.2" fill="#c32026"/>
<circle cx="994.5" cy="209.3" r="10.2" fill="#c42026"/>
<circle cx="995.5" cy="210.4" r="10.2" fill="#c12026"/>
<circle cx="996.5" cy="209.7" r="10.2" fill="#c42026"/>
<circle cx="997.5" cy="214.2" r="10.2" fill="#d51e25"/>
<circle cx="998.5" cy="204.9" r="10.2" fill="#ee3822"/>
<circle cx="999.5" cy="203.2" r="10.2" fill="#f57f1c"/>
<circle cx="1000.5" cy="213.8" r="10.2" fill="#cf1f25"/>
<circle cx="1001.5" cy="213.0" r="10.2" fill="#c91f26"/>
<circle cx="1002.5" cy="210.4" r="10.2" fill="#c42026"/>
<circle cx="1003.5" cy="209.1" r="10.2" fill="#cb1f26"/>
<circle cx="1004.5" cy="207.8" r="10.2" fill="#d91e25"/>
<circle cx="1005.5" cy="212.2" r="10.2" fill="#c52026"/>
<circle cx="1006.5" cy="219.2" r="10.2" fill="#f4711d"/>
<circle cx="1007.5" cy="206.7" r="10.2" fill="#ea1c24"/>
<circle cx="1008.5" cy="221.2" r="10.2" fill="#ffed01"/>
<circle cx="1009.5" cy="220.8" r="10.2" fill="#fcbb14"/>
<circle cx="1010.5" cy="210.3" r="10.2" fill="#c91f26"/>
<circle cx="1011.4" cy="217.3" r="10.2" fill="#ee2923"/>
<circle cx="1012.4" cy="204.8" r="10.2" fill="#f15e1f"/>
<circle cx="1013.4" cy="203.4" r="10.2" fill="#faa919"/>
<circle cx="1014.4" cy="200.9" r="10.2" fill="#cbdc29"/>
<circle cx="1015.4" cy="210.9" r="10.2" fill="#c81f26"/>
<circle cx="1016.4" cy="210.2" r="10.2" fill="#cc1f25"/>
<circle cx="1017.4" cy="210.5" r="10.2" fill="#cb1f26"/>
<circle cx="1018.4" cy="214.0" r="10.2" fill="#cc1f25"/>
<circle cx="1019.4" cy="201.6" r="10.2" fill="#d4df23"/>
<circle cx="1020.4" cy="216.4" r="10.2" fill="#df1d25"/>
<circle cx="1021.4" cy="205.7" r="10.2" fill="#f05020"/>
<circle cx="1022.4" cy="210.0" r="10.2" fill="#d11e25"/>
<circle cx="1023.4" cy="209.9" r="10.2" fill="#d31e25"/>
<circle cx="1024.4" cy="207.4" r="10.2" fill="#ed2523"/>
<circle cx="1025.4" cy="206.3" r="10.2" fill="#ef4721"/>
<circle cx="1026.4" cy="204.5" r="10.2" fill="#f89b1a"/>
<circle cx="1027.4" cy="214.0" r="10.2" fill="#ca1f26"/>
<circle cx="1028.3" cy="217.5" r="10.2" fill="#e61d24"/>
<circle cx="1029.3" cy="217.4" r="10.2" fill="#e41d24"/>
<circle cx="1030.3" cy="208.8" r="10.2" fill="#e51d24"/>
<circle cx="1031.3" cy="206.9" r="10.2" fill="#ef4121"/>
<circle cx="1032.3" cy="209.3" r="10.2" fill="#e01d25"/>
<circle cx="1033.3" cy="217.1" r="10.2" fill="#dc1d25"/>
<circle cx="1034.3" cy="195.3" r="10.2" fill="#65cce1"/>
<circle cx="1035.3" cy="226.5" r="10.2" fill="#b2d33a"/>
<circle cx="1036.3" cy="212.1" r="10.2" fill="#cc1f25"/>
<circle cx="1037.3" cy="210.5" r="10.2" fill="#d81e25"/>
<circle cx="1038.3" cy="216.8" r="10.2" fill="#d71e25"/>
<circle cx="1039.3" cy="224.8" r="10.2" fill="#e2e417"/>
<circle cx="1040.3" cy="218.3" r="10.2" fill="#e51d24"/>
<circle cx="1041.3" cy="221.1" r="10.2" fill="#f05020"/>
<circle cx="1042.3" cy="216.0" r="10.2" fill="#ce1f25"/>
<circle cx="1043.3" cy="222.2" r="10.2" fill="#f4771d"/>
<circle cx="1044.3" cy="222.4" r="10.2" fill="#f57b1d"/>
<circle cx="1045.2" cy="214.5" r="10.2" fill="#c91f26"/>
<circle cx="1046.2" cy="223.6" r="10.2" fill="#fbac18"/>
<circle cx="1047.2" cy="216.5" r="10.2" fill="#d01f25"/>
<circle cx="1048.2" cy="216.2" r="10.2" fill="#cd1f25"/>
<circle cx="1049.2" cy="210.6" r="10.2" fill="#e11d25"/>
<circle cx="1050.2" cy="213.1" r="10.2" fill="#ce1f25"/>
<circle cx="1051.2" cy="220.3" r="10.2" fill="#ed2523"/>
<circle cx="1052.2" cy="208.6" r="10.2" fill="#ef3d22"/>
<circle cx="1053.2" cy="219.7" r="10.2" fill="#e91c24"/>
<circle cx="1054.2" cy="223.7" r="10.2" fill="#f7901b"/>
<circle cx="1055.2" cy="218.9" r="10.2" fill="#dd1d25"/>
<circle cx="1056.2" cy="203.9" r="10.2" fill="#d1de24"/>
<circle cx="1057.2" cy="215.4" r="10.2" fill="#cb1f26"/>
<circle cx="1058.2" cy="220.1" r="10.2" fill="#e81c24"/>
<circle cx="1059.2" cy="209.3" r="10.2" fill="#ef3d22"/>
<circle cx="1060.2" cy="217.1" r="10.2" fill="#ce1f25"/>
<circle cx="1061.2" cy="195.7" r="10.2" fill="#3fc4ed"/>
<circle cx="1062.2" cy="220.5" r="10.2" fill="#ea1c24"/>
<circle cx="1063.1" cy="213.1" r="10.2" fill="#d61e25"/>
<circle cx="1064.1" cy="221.8" r="10.2" fill="#ee3023"/>
<circle cx="1065.1" cy="206.7" r="10.2" fill="#fdcd0d"/>
<circle cx="1066.1" cy="220.9" r="10.2" fill="#eb1c24"/>
<circle cx="1067.1" cy="215.8" r="10.2" fill="#cc1f25"/>
<circle cx="1068.1" cy="221.7" r="10.2" fill="#ee2623"/>
<circle cx="1069.1" cy="212.1" r="10.2" fill="#e61d24"/>
<circle cx="1070.1" cy="213.9" r="10.2" fill="#d61e25"/>
<circle cx="1071.1" cy="230.0" r="10.2" fill="#a4cf46"/>
<circle cx="1072.1" cy="212.9" r="10.2" fill="#e11d25"/>
<circle cx="1073.1" cy="213.6" r="10.2" fill="#da1e25"/>
<circle cx="1074.1" cy="216.1" r="10.2" fill="#ce1f25"/>
<circle cx="1075.1" cy="212.0" r="10.2" fill="#ed1e24"/>
<circle cx="1076.1" cy="224.5" r="10.2" fill="#f2631f"/>
<circle cx="1077.1" cy="227.5" r="10.2" fill="#ede90e"/>
<circle cx="1078.1" cy="211.3" r="10.2" fill="#ee3722"/>
<circle cx="1079.1" cy="208.4" r="10.2" fill="#faa819"/>
<circle cx="1080.0" cy="224.7" r="10.2" fill="#f15d1f"/>
<circle cx="1081.0" cy="228.7" r="10.2" fill="#d5df22"/>
<circle cx="1082.0" cy="222.8" r="10.2" fill="#ee2623"/>
<circle cx="1083.0" cy="229.3" r="10.2" fill="#cadb29"/>
<circle cx="1084.0" cy="210.1" r="10.2" fill="#f36d1e"/>
<circle cx="1085.0" cy="217.5" r="10.2" fill="#ce1f25"/>
<circle cx="1086.0" cy="205.4" r="10.2" fill="#b8d535"/>
<circle cx="1087.0" cy="210.6" r="10.2" fill="#f2631f"/>
<circle cx="1088.0" cy="224.2" r="10.2" fill="#ef3b22"/>
<circle cx="1089.0" cy="215.0" r="10.2" fill="#dd1d25"/>
<circle cx="1090.0" cy="231.6" r="10.2" fill="#a0ce4d"/>
<circle cx="1091.0" cy="219.6" r="10.2" fill="#d11f25"/>
<circle cx="1092.0" cy="215.4" r="10.2" fill="#dc1d25"/>
<circle cx="1093.0" cy="226.6" r="10.2" fill="#f6881b"/>
<circle cx="1094.0" cy="229.2" r="10.2" fill="#e2e418"/>
<circle cx="1095.0" cy="221.9" r="10.2" fill="#dd1d25"/>
<circle cx="1096.0" cy="206.4" r="10.2" fill="#bcd733"/>
<circle cx="1096.9" cy="222.8" r="10.2" fill="#e51d24"/>
<circle cx="1097.9" cy="227.1" r="10.2" fill="#f78d1b"/>
<circle cx="1098.9" cy="214.7" r="10.2" fill="#ea1c24"/>
<circle cx="1099.9" cy="215.2" r="10.2" fill="#e61d24"/>
<circle cx="1100.9" cy="225.2" r="10.2" fill="#ef3f21"/>
<circle cx="1101.9" cy="220.4" r="10.2" fill="#d11e25"/>
<circle cx="1102.9" cy="193.0" r="10.2" fill="#4370b9"/>
<circle cx="1103.9" cy="217.6" r="10.2" fill="#d51e25"/>
<circle cx="1104.9" cy="212.6" r="10.2" fill="#f05820"/>
<circle cx="1105.9" cy="221.5" r="10.2" fill="#d51e25"/>
<circle cx="1106.9" cy="220.6" r="10.2" fill="#d11e25"/>
<circle cx="1107.9" cy="226.4" r="10.2" fill="#f05420"/>
<circle cx="1108.9" cy="224.0" r="10.2" fill="#e91c24"/>
<circle cx="1109.9" cy="211.4" r="10.2" fill="#f9a219"/>
<circle cx="1110.9" cy="224.1" r="10.2" fill="#e81c24"/>
<circle cx="1111.9" cy="225.3" r="10.2" fill="#ee2d23"/>
<circle cx="1112.9" cy="229.2" r="10.2" fill="#fee305"/>
<circle cx="1113.8" cy="226.1" r="10.2" fill="#ef4021"/>
<circle cx="1114.8" cy="215.2" r="10.2" fill="#ee2c23"/>
<circle cx="1115.8" cy="215.2" r="10.2" fill="#ee3023"/>
<circle cx="1116.8" cy="229.4" r="10.2" fill="#feda08"/>
<circle cx="1117.8" cy="210.5" r="10.2" fill="#efea0d"/>
<circle cx="1118.8" cy="199.7" r="10.2" fill="#31c1f1"/>
<circle cx="1119.8" cy="250.0" r="10.2" fill="#3c55a8"/>
<circle cx="1120.8" cy="216.7" r="10.2" fill="#ea1c24"/>
<circle cx="1121.8" cy="217.9" r="10.2" fill="#df1d25"/>
<circle cx="1122.8" cy="207.6" r="10.2" fill="#a2cf4b"/>
<circle cx="1123.8" cy="213.5" r="10.2" fill="#f57a1d"/>
<circle cx="1124.8" cy="210.0" r="10.2" fill="#d3de23"/>
<circle cx="1125.8" cy="219.1" r="10.2" fill="#d91e25"/>
<circle cx="1126.8" cy="223.2" r="10.2" fill="#d81e25"/>
<circle cx="1127.8" cy="200.2" r="10.2" fill="#2dbff1"/>
<circle cx="1128.8" cy="225.5" r="10.2" fill="#ec1c24"/>
<circle cx="1129.8" cy="214.7" r="10.2" fill="#f15f1f"/>
<circle cx="1130.7" cy="215.4" r="10.2" fill="#ef4b21"/>
<circle cx="1131.7" cy="225.2" r="10.2" fill="#e71d24"/>
<circle cx="1132.7" cy="221.1" r="10.2" fill="#d31e25"/>
<circle cx="1133.7" cy="212.9" r="10.2" fill="#fcc70f"/>
<circle cx="1134.7" cy="239.1" r="10.2" fill="#65cce0"/>
<circle cx="1135.7" cy="216.8" r="10.2" fill="#ee3023"/>
<circle cx="1136.7" cy="223.1" r="10.2" fill="#d51e25"/>
<circle cx="1137.7" cy="223.7" r="10.2" fill="#d71e25"/>
<circle cx="1138.7" cy="229.7" r="10.2" fill="#f89b1a"/>
<circle cx="1139.7" cy="219.3" r="10.2" fill="#df1d25"/>
<circle cx="1140.7" cy="227.6" r="10.2" fill="#ef3f22"/>
<circle cx="1141.7" cy="217.8" r="10.2" fill="#ed2323"/>
<circle cx="1142.7" cy="232.7" r="10.2" fill="#ccdc28"/>
<circle cx="1143.7" cy="217.8" r="10.2" fill="#ee2723"/>
<circle cx="1144.7" cy="220.1" r="10.2" fill="#dc1e25"/>
<circle cx="1145.7" cy="232.8" r="10.2" fill="#ccdc28"/>
<circle cx="1146.7" cy="224.1" r="10.2" fill="#d71e25"/>
<circle cx="1147.7" cy="223.0" r="10.2" fill="#d31e25"/>
<circle cx="1148.6" cy="243.7" r="10.2" fill="#4496d8"/>
<circle cx="1149.6" cy="225.9" r="10.2" fill="#e41d24"/>
<circle cx="1150.6" cy="217.9" r="10.2" fill="#ee3023"/>
<circle cx="1151.6" cy="226.7" r="10.2" fill="#ed1c24"/>
<circle cx="1152.6" cy="216.0" r="10.2" fill="#f4731d"/>
<circle cx="1153.6" cy="229.0" r="10.2" fill="#f05720"/>
<circle cx="1154.6" cy="229.5" r="10.2" fill="#f36c1e"/>
<circle cx="1155.6" cy="219.6" r="10.2" fill="#e81c24"/>
<circle cx="1156.6" cy="219.3" r="10.2" fill="#ec1c24"/>
<circle cx="1157.6" cy="223.9" r="10.2" fill="#d51e25"/>
<circle cx="1158.6" cy="223.0" r="10.2" fill="#d41e25"/>
<circle cx="1159.6" cy="217.5" r="10.2" fill="#f04b21"/>
<circle cx="1160.6" cy="228.4" r="10.2" fill="#ef3e22"/>
<circle cx="1161.6" cy="211.7" r="10.2" fill="#b2d339"/>
<circle cx="1162.6" cy="220.5" r="10.2" fill="#e31d24"/>
<circle cx="1163.6" cy="220.9" r="10.2" fill="#e01d25"/>
<circle cx="1164.6" cy="221.7" r="10.2" fill="#da1e25"/>
<circle cx="1165.5" cy="225.0" r="10.2" fill="#d91e25"/>
<circle cx="1166.5" cy="210.4" r="10.2" fill="#93cb63"/>
<circle cx="1167.5" cy="226.7" r="10.2" fill="#e61d24"/>
<circle cx="1168.5" cy="222.5" r="10.2" fill="#d81e25"/>
<circle cx="1169.5" cy="218.1" r="10.2" fill="#f04d20"/>
<circle cx="1170.5" cy="210.6" r="10.2" fill="#92cb66"/>
<circle cx="1171.5" cy="217.0" r="10.2" fill="#f57e1c"/>
<circle cx="1172.5" cy="225.7" r="10.2" fill="#db1e25"/>
<circle cx="1173.5" cy="218.3" r="10.2" fill="#f04c21"/>
<circle cx="1174.5" cy="224.4" r="10.2" fill="#d61e25"/>
<circle cx="1175.5" cy="229.8" r="10.2" fill="#f05620"/>
<circle cx="1176.5" cy="229.7" r="10.2" fill="#f05120"/>
<circle cx="1177.5" cy="232.7" r="10.2" fill="#f5ec09"/>
<circle cx="1178.5" cy="222.3" r="10.2" fill="#dc1e25"/>
<circle cx="1179.5" cy="218.0" r="10.2" fill="#f2671e"/>
<circle cx="1180.5" cy="229.8" r="10.2" fill="#f05120"/>
<circle cx="1181.5" cy="225.9" r="10.2" fill="#db1e25"/>
<circle cx="1182.4" cy="230.5" r="10.2" fill="#f36b1e"/>
<circle cx="1183.4" cy="224.3" r="10.2" fill="#d61e25"/>
<circle cx="1184.4" cy="231.0" r="10.2" fill="#f5801c"/>
<circle cx="1185.4" cy="232.4" r="10.2" fill="#feda08"/>
<circle cx="1186.4" cy="228.4" r="10.2" fill="#ee2623"/>
<circle cx="1187.4" cy="227.2" r="10.2" fill="#e51d24"/>
<circle cx="1188.4" cy="228.2" r="10.2" fill="#ed2124"/>
<circle cx="1189.4" cy="225.8" r="10.2" fill="#da1e25"/>
<circle cx="1190.4" cy="225.8" r="10.2" fill="#da1e25"/>
<circle cx="1191.4" cy="234.0" r="10.2" fill="#d9e01f"/>
<circle cx="1192.4" cy="219.8" r="10.2" fill="#ef3f22"/>
<circle cx="1193.4" cy="234.4" r="10.2" fill="#d0dd26"/>
<circle cx="1194.4" cy="224.1" r="10.2" fill="#d81e25"/>
<circle cx="1195.4" cy="230.3" r="10.2" fill="#f05320"/>
<circle cx="1196.4" cy="224.3" r="10.2" fill="#d81e25"/>
<circle cx="1197.4" cy="223.5" r="10.2" fill="#db1e25"/>
<circle cx="1198.4" cy="236.3" r="10.2" fill="#a4cf47"/>
<circle cx="1199.3" cy="223.2" r="10.2" fill="#dd1d25"/>
<circle cx="1200.3" cy="217.8" r="10.2" fill="#f99d1a"/>
<circle cx="1201.3" cy="221.0" r="10.2" fill="#ee2823"/>
<circle cx="1202.3" cy="223.3" r="10.2" fill="#dd1d25"/>
<circle cx="1203.3" cy="245.6" r="10.2" fill="#4496d8"/>
<circle cx="1204.3" cy="226.3" r="10.2" fill="#db1e25"/>
<circle cx="1205.3" cy="230.4" r="10.2" fill="#f05020"/>
<circle cx="1206.3" cy="219.6" r="10.2" fill="#f05420"/>
<circle cx="1207.3" cy="228.6" r="10.2" fill="#ed2024"/>
<circle cx="1208.3" cy="229.1" r="10.2" fill="#ee2923"/>
<circle cx="1209.3" cy="235.5" r="10.2" fill="#bfd831"/>
<circle cx="1210.3" cy="221.5" r="10.2" fill="#ee2523"/>
<circle cx="1211.3" cy="228.8" r="10.2" fill="#ed2224"/>
<circle cx="1212.3" cy="227.2" r="10.2" fill="#e01d25"/>
<circle cx="1213.3" cy="219.8" r="10.2" fill="#f15c1f"/>
<circle cx="1214.3" cy="225.4" r="10.2" fill="#db1e25"/>
<circle cx="1215.3" cy="223.1" r="10.2" fill="#e71d24"/>
<circle cx="1216.3" cy="212.6" r="10.2" fill="#86c87a"/>
<circle cx="1217.2" cy="229.0" r="10.2" fill="#ee2d23"/>
<circle cx="1218.2" cy="228.7" r="10.2" fill="#ee2823"/>
<circle cx="1219.2" cy="221.6" r="10.2" fill="#ee3722"/>
<circle cx="1220.2" cy="218.3" r="10.2" fill="#fdca0e"/>
<circle cx="1221.2" cy="234.1" r="10.2" fill="#e3e417"/>
<circle cx="1222.2" cy="228.4" r="10.2" fill="#ee2623"/>
<circle cx="1223.2" cy="235.5" r="10.2" fill="#bcd732"/>
<circle cx="1224.2" cy="239.3" r="10.2" fill="#7ec89c"/>
<circle cx="1225.2" cy="223.0" r="10.2" fill="#ee2723"/>
<circle cx="1226.2" cy="230.5" r="10.2" fill="#f15f1f"/>
<circle cx="1227.2" cy="224.7" r="10.2" fill="#eb1c24"/>
<circle cx="1228.2" cy="225.5" r="10.2" fill="#ea1c24"/>
<circle cx="1229.2" cy="228.0" r="10.2" fill="#ee2923"/>
<circle cx="1230.2" cy="226.1" r="10.2" fill="#ec1c24"/>
<circle cx="1231.2" cy="236.7" r="10.2" fill="#a0ce4d"/>
<circle cx="1232.2" cy="226.9" r="10.2" fill="#ed2224"/>
<circle cx="1233.2" cy="225.4" r="10.2" fill="#ed2024"/>
<circle cx="1234.1" cy="224.7" r="10.2" fill="#ee2523"/>
<circle cx="1235.1" cy="228.2" r="10.2" fill="#ee3522"/>
<circle cx="1236.1" cy="221.3" r="10.2" fill="#f36b1e"/>
<circle cx="1237.1" cy="223.5" r="10.2" fill="#ef3e22"/>
<circle cx="1238.1" cy="225.9" r="10.2" fill="#ee3522"/>
<circle cx="1239.1" cy="223.2" r="10.2" fill="#f05320"/>
<circle cx="1240.1" cy="225.3" r="10.2" fill="#ef4621"/>
<circle cx="1241.1" cy="220.7" r="10.2" fill="#fcc411"/>
<circle cx="1242.1" cy="237.7" r="10.2" fill="#85c87e"/>
<circle cx="1243.1" cy="234.0" r="10.2" fill="#c7da2b"/>
<circle cx="1244.1" cy="230.8" r="10.2" fill="#fdd60a"/>
<circle cx="1245.1" cy="226.3" r="10.2" fill="#f4761d"/>
<circle cx="1246.1" cy="238.9" r="10.2" fill="#79c8ad"/>
<circle cx="1247.1" cy="228.4" r="10.2" fill="#f9a019"/>
<circle cx="1248.1" cy="228.5" r="10.2" fill="#faa919"/>
<circle cx="1249.1" cy="228.4" r="10.2" fill="#fbaf18"/>
<circle cx="1250.1" cy="228.4" r="10.2" fill="#fcc012"/>
<circle cx="1251.0" cy="234.6" r="10.2" fill="#a3cf49"/>
<circle cx="1252.0" cy="226.6" r="10.2" fill="#fbb417"/>
<circle cx="1253.0" cy="238.5" r="10.2" fill="#78c8b3"/>
<circle cx="1254.0" cy="218.4" r="10.2" fill="#a7d041"/>
<circle cx="1255.0" cy="233.4" r="10.2" fill="#b3d439"/>
<circle cx="1256.0" cy="221.2" r="10.2" fill="#d7e021"/>
<circle cx="1257.0" cy="237.1" r="10.2" fill="#81c88e"/>
<circle cx="1258.0" cy="225.1" r="10.2" fill="#fee604"/>
<circle cx="1259.0" cy="226.4" r="10.2" fill="#fee006"/>
<circle cx="1260.0" cy="232.1" r="10.2" fill="#c7da2c"/>
<circle cx="1261.0" cy="246.0" r="10.2" fill="#4880c4"/>
<circle cx="1262.0" cy="220.8" r="10.2" fill="#c9db2a"/>
<circle cx="1263.0" cy="225.1" r="10.2" fill="#fcef03"/>
<circle cx="1264.0" cy="213.8" r="10.2" fill="#6dcacc"/>
<circle cx="1265.0" cy="227.9" r="10.2" fill="#f7ed06"/>
<circle cx="1266.0" cy="226.1" r="10.2" fill="#faee04"/>
<circle cx="1267.0" cy="225.2" r="10.2" fill="#f6ec07"/>
<circle cx="1267.9" cy="223.3" r="10.2" fill="#e5e515"/>
<circle cx="1268.9" cy="225.2" r="10.2" fill="#f3eb0a"/>
<circle cx="1269.9" cy="223.0" r="10.2" fill="#dee31b"/>
<circle cx="1270.9" cy="230.2" r="10.2" fill="#d8e020"/>
<circle cx="1271.9" cy="235.7" r="10.2" fill="#88c877"/>
<circle cx="1272.9" cy="246.0" r="10.2" fill="#477ec2"/>
<circle cx="1273.9" cy="226.7" r="10.2" fill="#e9e712"/>
<circle cx="1274.9" cy="225.0" r="10.2" fill="#e2e418"/>
<circle cx="1275.9" cy="230.1" r="10.2" fill="#cddc28"/>
<circle cx="1276.9" cy="222.0" r="10.2" fill="#bfd830"/>
<circle cx="1277.9" cy="226.6" r="10.2" fill="#dae11e"/>
<circle cx="1278.9" cy="221.6" r="10.2" fill="#b3d439"/>
<circle cx="1279.9" cy="231.4" r="10.2" fill="#b1d33a"/>
<circle cx="1280.9" cy="228.0" r="10.2" fill="#ccdc28"/>
<circle cx="1281.9" cy="226.6" r="10.2" fill="#ccdc28"/>
<circle cx="1282.9" cy="231.0" r="10.2" fill="#acd13d"/>
<circle cx="1283.9" cy="225.2" r="10.2" fill="#c3d92e"/>
<circle cx="1284.9" cy="218.9" r="10.2" fill="#85c87f"/>
<circle cx="1285.8" cy="230.9" r="10.2" fill="#a6cf44"/>
<circle cx="1286.8" cy="230.4" r="10.2" fill="#a8d040"/>
<circle cx="1287.8" cy="226.8" r="10.2" fill="#b8d535"/>
<circle cx="1288.8" cy="237.0" r="10.2" fill="#72c9c0"/>
<circle cx="1289.8" cy="234.5" r="10.2" fill="#81c88f"/>
<circle cx="1290.8" cy="217.3" r="10.2" fill="#75c9b8"/>
<circle cx="1291.8" cy="223.4" r="10.2" fill="#a0ce4e"/>
<circle cx="1292.8" cy="236.4" r="10.2" fill="#73c9bf"/>
<circle cx="1293.8" cy="241.3" r="10.2" fill="#34b4eb"/>
<circle cx="1294.8" cy="244.0" r="10.2" fill="#4783c6"/>
<circle cx="1295.8" cy="216.6" r="10.2" fill="#6acbd5"/>
<circle cx="1296.8" cy="224.3" r="10.2" fill="#99cc5a"/>
<circle cx="1297.8" cy="225.1" r="10.2" fill="#99cd59"/>
<circle cx="1298.8" cy="219.0" r="10.2" fill="#79c8af"/>
<circle cx="1299.8" cy="228.1" r="10.2" fill="#95cc60"/>
<circle cx="1300.8" cy="220.8" r="10.2" fill="#7fc895"/>
<circle cx="1301.8" cy="221.2" r="10.2" fill="#80c891"/>
<circle cx="1302.7" cy="233.1" r="10.2" fill="#7cc8a0"/>
<circle cx="1303.7" cy="224.2" r="10.2" fill="#8bc972"/>
<circle cx="1304.7" cy="227.4" r="10.2" fill="#8eca6c"/>
<circle cx="1305.7" cy="239.3" r="10.2" fill="#31c1f1"/>
<circle cx="1306.7" cy="235.8" r="10.2" fill="#6acbd3"/>
<circle cx="1307.7" cy="224.9" r="10.2" fill="#87c878"/>
<circle cx="1308.7" cy="228.4" r="10.2" fill="#86c87a"/>
<circle cx="1309.7" cy="220.4" r="10.2" fill="#78c8b3"/>
<circle cx="1310.7" cy="238.0" r="10.2" fill="#43c5ec"/>
</g>
<rect x="267.8" y="9.7" width="1092.1" height="846.3" fill="none" stroke="#333333" stroke-width="7" stroke-linejoin="round"/>
<g stroke="#333333" stroke-width="7" stroke-linecap="round">
<line x1="316.5" y1="858" x2="316.5" y2="873"/>
<line x1="565.0" y1="858" x2="565.0" y2="873"/>
<line x1="813.6" y1="858" x2="813.6" y2="873"/>
<line x1="1062.1" y1="858" x2="1062.1" y2="873"/>
<line x1="1310.7" y1="858" x2="1310.7" y2="873"/>
<line x1="251" y1="222.4" x2="266" y2="222.4"/>
<line x1="251" y1="441.3" x2="266" y2="441.3"/>
<line x1="251" y1="660.1" x2="266" y2="660.1"/>
</g>
<g opacity="0.999">
<text x="317.05" y="943.0" font-size="69.7px" fill="#464646" stroke="#ffffff" stroke-width="1.4" text-anchor="middle" textLength="43" lengthAdjust="spacingAndGlyphs">0</text>
<text x="565.1" y="943.0" font-size="69.7px" fill="#464646" stroke="#ffffff" stroke-width="1.4" text-anchor="middle" textLength="171.5" lengthAdjust="spacingAndGlyphs">2,500</text>
<text x="813.1" y="943.0" font-size="69.7px" fill="#464646" stroke="#ffffff" stroke-width="1.4" text-anchor="middle" textLength="171.8" lengthAdjust="spacingAndGlyphs">5,000</text>
<text x="1063.1" y="943.0" font-size="69.7px" fill="#464646" stroke="#ffffff" stroke-width="1.4" text-anchor="middle" textLength="170" lengthAdjust="spacingAndGlyphs">7,500</text>
<text x="1311.5" y="943.0" font-size="69.7px" fill="#464646" stroke="#ffffff" stroke-width="1.4" text-anchor="middle" textLength="199.6" lengthAdjust="spacingAndGlyphs">10,000</text>
<text x="157.95" y="232.6" font-size="70.2px" fill="#464646" stroke="#ffffff" stroke-width="1.4" text-anchor="middle" textLength="134.4" lengthAdjust="spacingAndGlyphs">0.90</text>
<text x="157.95" y="451.2" font-size="70.2px" fill="#464646" stroke="#ffffff" stroke-width="1.4" text-anchor="middle" textLength="134.4" lengthAdjust="spacingAndGlyphs">0.87</text>
<text x="157.95" y="669.8" font-size="70.2px" fill="#464646" stroke="#ffffff" stroke-width="1.4" text-anchor="middle" textLength="134.4" lengthAdjust="spacingAndGlyphs">0.84</text>
<text x="597.1" y="1043.7" font-size="71.5px" fill="#1a1a1a" stroke="#ffffff" stroke-width="0.7" text-anchor="start" textLength="236.86" lengthAdjust="spacingAndGlyphs">Number</text>
<text x="849.8" y="1043.7" font-size="71.5px" fill="#1a1a1a" stroke="#ffffff" stroke-width="0.7" text-anchor="start" textLength="56.5" lengthAdjust="spacingAndGlyphs">of</text>
<text x="922.9" y="1043.7" font-size="71.5px" fill="#1a1a1a" stroke="#ffffff" stroke-width="0.7" text-anchor="start" textLength="233.0" lengthAdjust="spacingAndGlyphs">features</text>
<g transform="translate(57.2,1052) rotate(-90)">
<text x="340.8" y="0" font-size="71.5px" fill="#1a1a1a" stroke="#ffffff" stroke-width="0.7" text-anchor="start" textLength="169.43" lengthAdjust="spacingAndGlyphs">5-fold</text>
<text x="527.0" y="0" font-size="71.5px" fill="#1a1a1a" stroke="#ffffff" stroke-width="0.7" text-anchor="start" textLength="89.9" lengthAdjust="spacingAndGlyphs">CV</text>
<text x="632.4" y="0" font-size="71.5px" fill="#1a1a1a" stroke="#ffffff" stroke-width="0.7" text-anchor="start" textLength="263.77" lengthAdjust="spacingAndGlyphs">accuracy</text>
</g>
<text transform="translate(406,467.6) rotate(-90)" font-size="48.6px" fill="#1a1a1a" stroke="#d9d7d6" stroke-width="0.5" text-anchor="middle" textLength="387.0" lengthAdjust="spacingAndGlyphs">Average number of</text>
<text transform="translate(462.6,467.9) rotate(-90)" font-size="48.6px" fill="#1a1a1a" stroke="#d9d7d6" stroke-width="0.5" text-anchor="middle" textLength="476.3" lengthAdjust="spacingAndGlyphs">selected features = 302</text>
<text transform="translate(518.8,467.2) rotate(-90)" font-size="48.6px" fill="#1a1a1a" stroke="#d9d7d6" stroke-width="0.5" text-anchor="middle" textLength="400.7" lengthAdjust="spacingAndGlyphs">Range = 10 - 5,310</text>
<text x="846.8" y="679.3" font-size="48.6px" fill="#1a1a1a" stroke="#d9d7d6" stroke-width="0.5" text-anchor="middle" textLength="150.9" lengthAdjust="spacingAndGlyphs" clip-path="url(#cl)">Density</text><text x="846.8" y="679.3" font-size="48.6px" fill="#1a1a1a" stroke="#ffffff" stroke-width="0.5" text-anchor="middle" textLength="150.9" lengthAdjust="spacingAndGlyphs" clip-path="url(#cr)">Density</text>
<rect x="612.4" y="698.6" width="468.5" height="56.9" fill="url(#jet)"/>
<g stroke="#ffffff" stroke-width="2">
<line x1="719.9" y1="698.6" x2="719.9" y2="710.2"/><line x1="719.9" y1="743.9" x2="719.9" y2="755.5"/>
<line x1="829.9" y1="698.6" x2="829.9" y2="710.2"/><line x1="829.9" y1="743.9" x2="829.9" y2="755.5"/>
<line x1="939.9" y1="698.6" x2="939.9" y2="710.2"/><line x1="939.9" y1="743.9" x2="939.9" y2="755.5"/>
<line x1="1049.9" y1="698.6" x2="1049.9" y2="710.2"/><line x1="1049.9" y1="743.9" x2="1049.9" y2="755.5"/>
</g>
<text x="612.7" y="797.5" font-size="49.1px" fill="#1a1a1a" stroke="#d9d7d6" stroke-width="0.5" text-anchor="middle" textLength="118.3" lengthAdjust="spacingAndGlyphs">0.000</text>
<text x="830.35" y="797.5" font-size="49.1px" fill="#1a1a1a" stroke="#d9d7d6" stroke-width="0.5" text-anchor="middle" textLength="119.4" lengthAdjust="spacingAndGlyphs" clip-path="url(#cl)">0.010</text><text x="830.35" y="797.5" font-size="49.1px" fill="#1a1a1a" stroke="#ffffff" stroke-width="0.5" text-anchor="middle" textLength="119.4" lengthAdjust="spacingAndGlyphs" clip-path="url(#cr)">0.010</text>
<text x="1049.8" y="797.5" font-size="49.1px" fill="#1a1a1a" stroke="#ffffff" stroke-width="0.5" text-anchor="middle" textLength="119.5" lengthAdjust="spacingAndGlyphs">0.020</text>
</g>
</svg>
</body></html>
